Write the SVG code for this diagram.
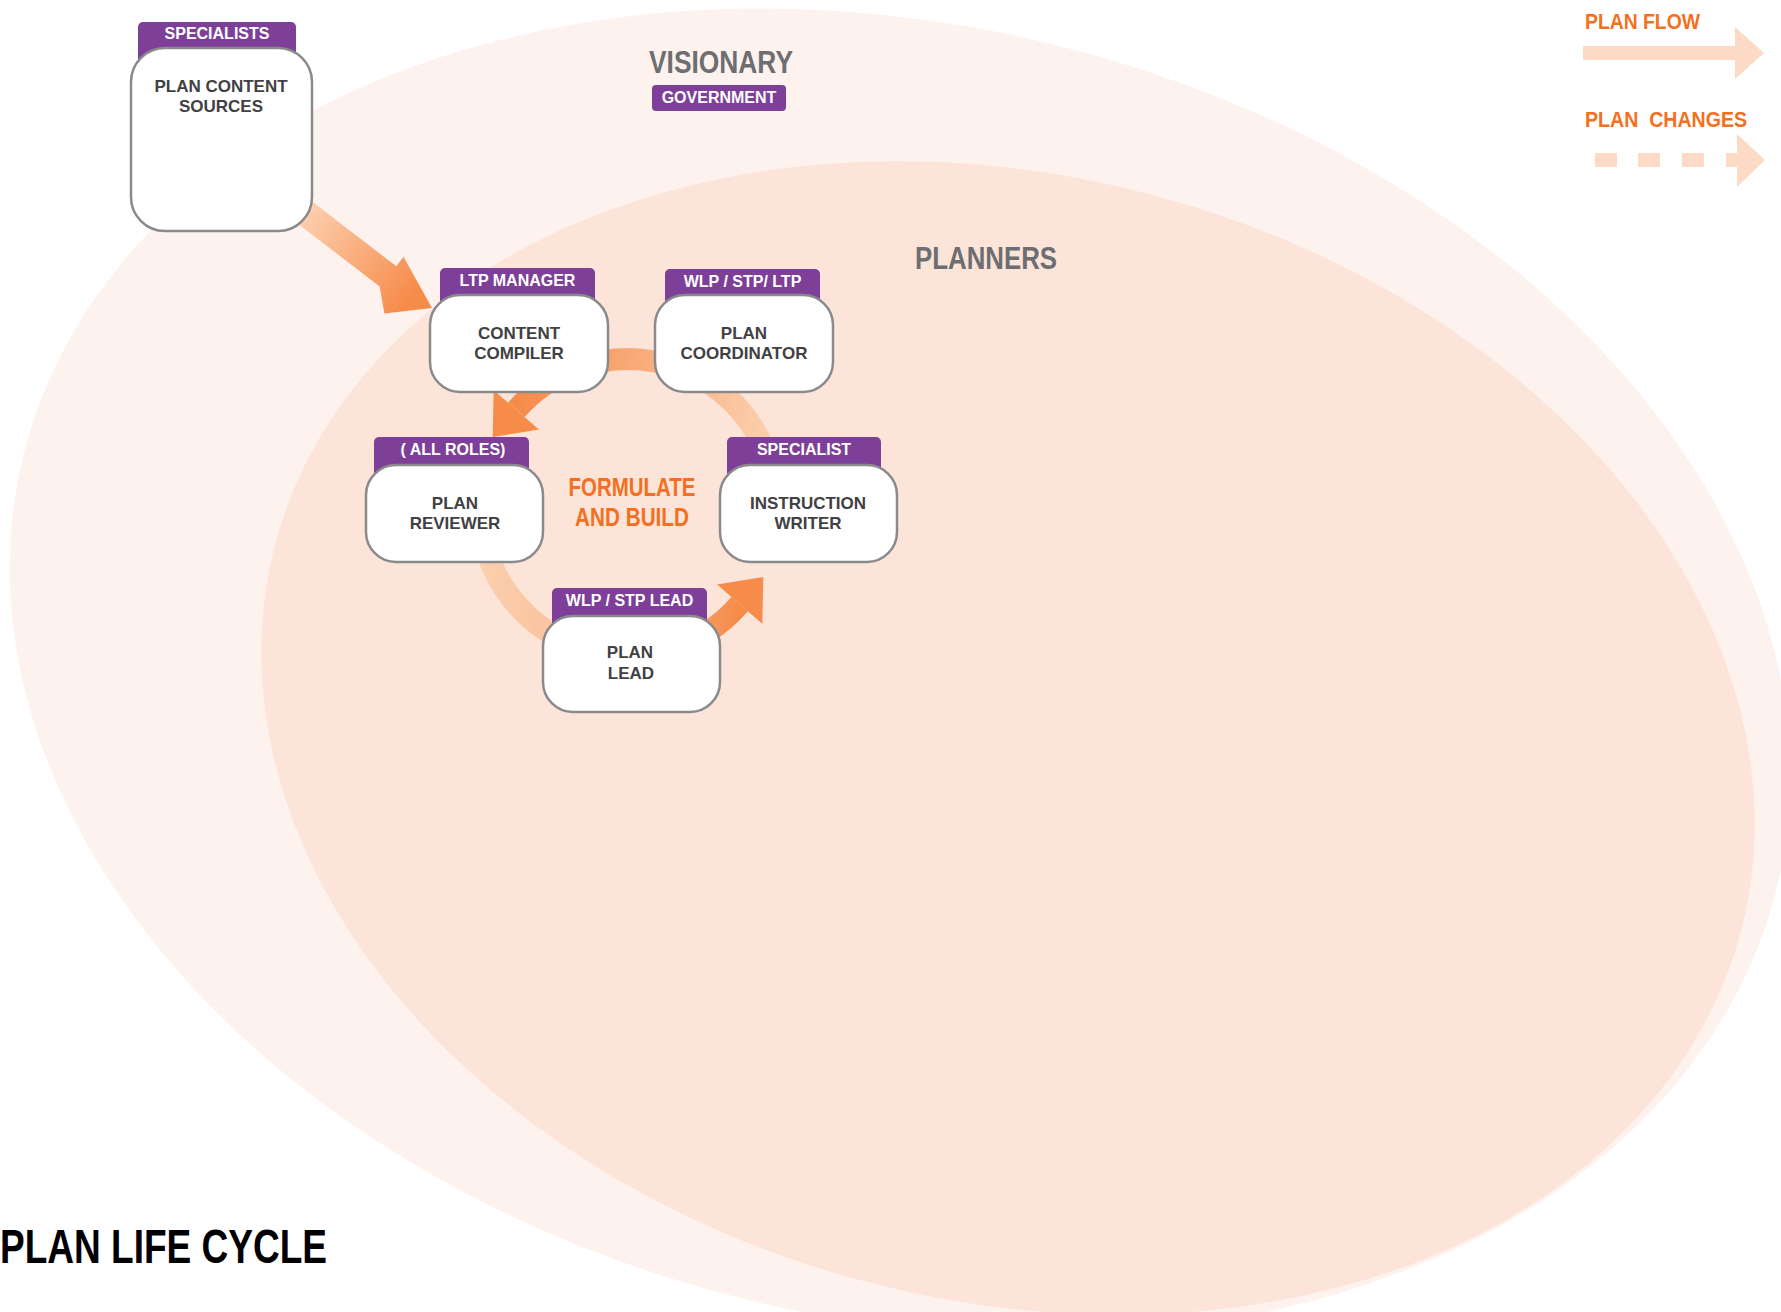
<svg xmlns="http://www.w3.org/2000/svg" width="1781" height="1312" viewBox="0 0 1781 1312">
<defs>
<style>
.box{fill:#ffffff;stroke:#8a8a8c;stroke-width:2.5}
.tab{fill:#7e3f98}
.tabt{font-family:"Liberation Sans",Arial,sans-serif;font-weight:bold;font-size:16px;fill:#ffffff;text-anchor:middle}
.bt{font-family:"Liberation Sans",Arial,sans-serif;font-weight:bold;font-size:17px;fill:#414042;text-anchor:middle}
.cond{font-family:"Liberation Sans",Arial,sans-serif;font-weight:bold}
.gray{fill:#6d6e71}
.orange{fill:#f37021}
.head{fill:#f68b4a}
.leg{fill:#fcdac6}
</style>
<linearGradient id="gSrc" gradientUnits="userSpaceOnUse" x1="300" y1="205" x2="415" y2="295">
<stop offset="0" stop-color="#fdd3b5"/>
<stop offset="1" stop-color="#f68b4a"/>
</linearGradient>
<linearGradient id="gA" gradientUnits="userSpaceOnUse" x1="770" y1="430" x2="516" y2="410">
<stop offset="0" stop-color="#fbcfae"/>
<stop offset="1" stop-color="#f68b4a"/>
</linearGradient>
<linearGradient id="gB" gradientUnits="userSpaceOnUse" x1="480" y1="560" x2="742" y2="600">
<stop offset="0" stop-color="#fbcfae"/>
<stop offset="0.55" stop-color="#f9bb92"/>
<stop offset="1" stop-color="#f68b4a"/>
</linearGradient>
</defs>

<g id="background">
<ellipse cx="900" cy="672" rx="903" ry="646" transform="rotate(13.85 900 672)" fill="#fdf2ed"/>
<ellipse cx="1008" cy="738" rx="758" ry="562" transform="rotate(14.8 1008 738)" fill="#fce4d8"/>
</g>

<g id="labels">
<text class="cond gray" x="721" y="73" font-size="32" text-anchor="middle" textLength="144" lengthAdjust="spacingAndGlyphs">VISIONARY</text>
<rect class="tab" x="652" y="85" width="134" height="26" rx="4"/>
<text class="tabt" x="719" y="103">GOVERNMENT</text>
<text class="cond gray" x="986" y="269" font-size="32" text-anchor="middle" textLength="142" lengthAdjust="spacingAndGlyphs">PLANNERS</text>
<text class="cond orange" x="632" y="496" font-size="26" text-anchor="middle" textLength="127" lengthAdjust="spacingAndGlyphs">FORMULATE</text>
<text class="cond orange" x="632" y="526" font-size="26" text-anchor="middle" textLength="114" lengthAdjust="spacingAndGlyphs">AND BUILD</text>
<text class="cond" x="0" y="1263" font-size="48" fill="#000000" textLength="327" lengthAdjust="spacingAndGlyphs">PLAN LIFE CYCLE</text>
</g>

<g id="legend">
<text class="cond orange" x="1585" y="29" font-size="22" textLength="115" lengthAdjust="spacingAndGlyphs">PLAN FLOW</text>
<polygon class="leg" points="1583,46 1735,46 1735,27 1764,53 1735,79 1735,60 1583,60"/>
<text class="cond orange" x="1585" y="127" font-size="22" textLength="162" lengthAdjust="spacingAndGlyphs" style="white-space:pre">PLAN  CHANGES</text>
<rect class="leg" x="1595" y="153" width="22" height="14"/>
<rect class="leg" x="1638" y="153" width="22" height="14"/>
<rect class="leg" x="1682" y="153" width="22" height="14"/>
<polygon class="leg" points="1726,153 1737,153 1737,134 1765,160 1737,187 1737,167 1726,167"/>
</g>

<g id="connectors">
<polygon fill="url(#gSrc)" points="290.5,184.9 396.3,266.3 403.5,256.8 432,308 384.4,313.4 379.7,286.5 275.3,206.4"/>
<path d="M767.1,456.4 A148,148 0 0 0 516.3,409.9" fill="none" stroke="url(#gA)" stroke-width="22"/>
<polygon class="head" points="493.7,390.2 538.9,429.6 492.7,437.1"/>
<path d="M480,507 A148,148 0 0 0 739.7,604.1" fill="none" stroke="url(#gB)" stroke-width="22"/>
<polygon class="head" points="717.1,584.4 762.3,623.8 763.3,576.9"/>
</g>

<g id="node-plan-content-sources">
<rect class="tab" x="138" y="22" width="158" height="45" rx="5"/>
<text class="tabt" x="217" y="39">SPECIALISTS</text>
<rect class="box" x="131" y="48" width="181" height="183" rx="34"/>
<text class="bt" x="221" y="92">PLAN CONTENT</text>
<text class="bt" x="221" y="112">SOURCES</text>
</g>

<g id="node-content-compiler">
<rect class="tab" x="440" y="268" width="155" height="40" rx="5"/>
<text class="tabt" x="517.5" y="286">LTP MANAGER</text>
<rect class="box" x="430" y="295" width="178" height="97" rx="30"/>
<text class="bt" x="519" y="339">CONTENT</text>
<text class="bt" x="519" y="359">COMPILER</text>
</g>

<g id="node-plan-coordinator">
<rect class="tab" x="665" y="269" width="155" height="40" rx="5"/>
<text class="tabt" x="742.5" y="287">WLP / STP/ LTP</text>
<rect class="box" x="655" y="295" width="178" height="97" rx="30"/>
<text class="bt" x="744" y="339">PLAN</text>
<text class="bt" x="744" y="359">COORDINATOR</text>
</g>

<g id="node-plan-reviewer">
<rect class="tab" x="374" y="437" width="155" height="40" rx="5"/>
<text class="tabt" x="453" y="455">( ALL ROLES)</text>
<rect class="box" x="366" y="465" width="177" height="97" rx="30"/>
<text class="bt" x="455" y="509">PLAN</text>
<text class="bt" x="455" y="529">REVIEWER</text>
</g>

<g id="node-instruction-writer">
<rect class="tab" x="727" y="437" width="154" height="40" rx="5"/>
<text class="tabt" x="804" y="455">SPECIALIST</text>
<rect class="box" x="720" y="465" width="177" height="97" rx="30"/>
<text class="bt" x="808" y="509">INSTRUCTION</text>
<text class="bt" x="808" y="529">WRITER</text>
</g>

<g id="node-plan-lead">
<rect class="tab" x="552" y="588" width="155" height="40" rx="5"/>
<text class="tabt" x="629.5" y="606">WLP / STP LEAD</text>
<rect class="box" x="543" y="616" width="177" height="96" rx="30"/>
<text class="bt" x="630" y="658">PLAN</text>
<text class="bt" x="631" y="679">LEAD</text>
</g>
</svg>
